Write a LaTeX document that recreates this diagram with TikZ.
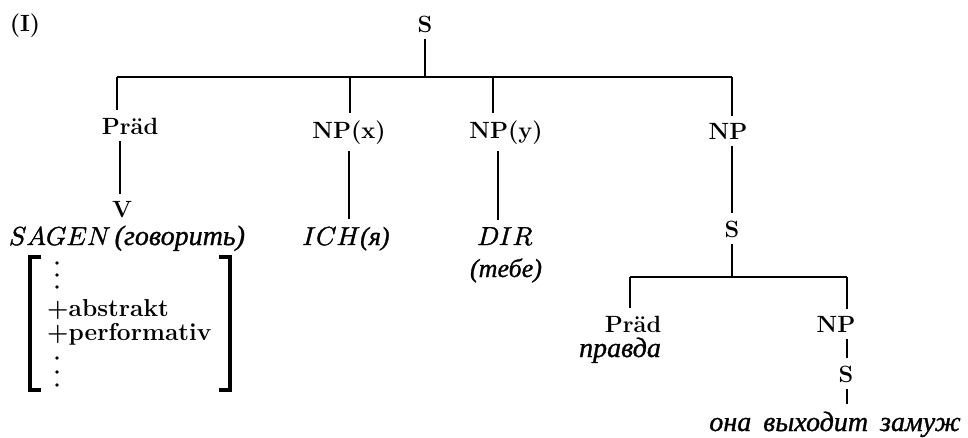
\documentclass[tikz,border=0pt]{standalone}
\usepackage{fontspec}
\usepackage{unicode-math}
\setmathfont{Latin Modern Math}[FakeBold=1.4]
\newfontfamily\cyr{Liberation Serif}[FakeBold=1.0]
\tikzset{
  lab/.style={inner xsep=0pt, inner ysep=7pt, anchor=base, font=\fontsize{23.5}{28}\selectfont\bfseries},
  mlab/.style={inner xsep=0pt, inner ysep=7pt, anchor=base, font=\fontsize{26}{31}\selectfont},
  feat/.style={inner sep=0pt, anchor=base west, font=\fontsize{24.5}{24}\selectfont\bfseries},
  conn/.style={line width=1.3pt},
  brack/.style={line width=4pt, line cap=butt, line join=miter},
  fdot/.style={fill=black, draw=none}
}
\newcommand{\cyi}[1]{{\cyr\itshape #1}}
\begin{document}
\begin{tikzpicture}[x=1pt,y=-1pt]
\useasboundingbox (0,0) rectangle (968,437);
% labels
\node[lab] (num) at (25,31) {(I)};
\node[lab] (s0) at (425,32) {S};
\node[lab] (p1) at (130,134) {Präd};
\node[lab] (npx) at (349,138) {NP(x)};
\node[lab] (npy) at (506,138) {NP(y)};
\node[lab] (np) at (728,139) {NP};
\node[lab] (v) at (122,217) {V};
\node[mlab] (sagen) at (127,245) {$SAGEN$\hspace{4pt}{\fontsize{28}{30}\selectfont\cyi{(говорить)}}};
\node[mlab] (ich) at (346,245) {$ICH$\cyi{(я)}};
\node[mlab] (dir) at (505,245) {$DIR$};
\node[mlab] (tebe) at (506,277) {\cyi{(тебе)}};
\node[lab] (s1) at (732,237) {S};
\node[lab] (p2) at (633,332) {Präd};
\node[mlab, font=\fontsize{28}{31}\selectfont] (pravda) at (620,357) {\cyi{правда}};
\node[lab] (np2) at (836,332) {NP};
\node[lab] (s2) at (846,382) {S};
\node[mlab, font=\fontsize{28}{31}\selectfont] (ona) at (835,431) {\cyi{она\hspace{12pt}выходит\hspace{12pt}замуж}};
% feature matrix
\node[feat] (abs) at (47,316) {+abstrakt};
\node[feat] (perf) at (47,340) {+performativ};
\foreach \yy in {263,275,287,358,372,385}{\fill[fdot] (57,\yy) circle (1.9pt);}
\draw[brack] (41,257) -- (30,257) -- (30,390) -- (41,390);
\draw[brack] (219,257) -- (230,257) -- (230,390) -- (219,390);
% junction coordinates
\coordinate (j0) at (425,77);
\coordinate (j1) at (117,77);
\coordinate (j2) at (350,77);
\coordinate (j3) at (493,77);
\coordinate (j4) at (732,77);
\coordinate (k0) at (732,277);
\coordinate (k1) at (630,277);
\coordinate (k2) at (847,277);
% connectors
\draw[conn] (s0.south) -- (j0);
\draw[conn] (j1) -- (j4);
\draw[conn] (j1) -- (j1 |- p1.north);
\draw[conn] (j2) -- (j2 |- npx.north);
\draw[conn] (j3) -- (j3 |- npy.north);
\draw[conn] (j4) -- (j4 |- np.north);
\draw[conn] ([xshift=-2pt]v.north |- p1.south) -- ([xshift=-2pt]v.north);
\draw[conn] (npx.south) -- (npx.south |- ich.north);
\draw[conn] ([xshift=-8pt]npy.south) -- ([xshift=-8pt]npy.south |- dir.north);
\draw[conn] (j4 |- np.south) -- (j4 |- s1.north);
\draw[conn] (s1.south) -- (k0);
\draw[conn] (k1) -- (k2);
\draw[conn] (k1) -- (k1 |- p2.north);
\draw[conn] (k2) -- (k2 |- np2.north);
\draw[conn] (k2 |- np2.south) -- (k2 |- s2.north);
\draw[conn] (k2 |- s2.south) -- (k2 |- ona.north);
\end{tikzpicture}
\end{document}
